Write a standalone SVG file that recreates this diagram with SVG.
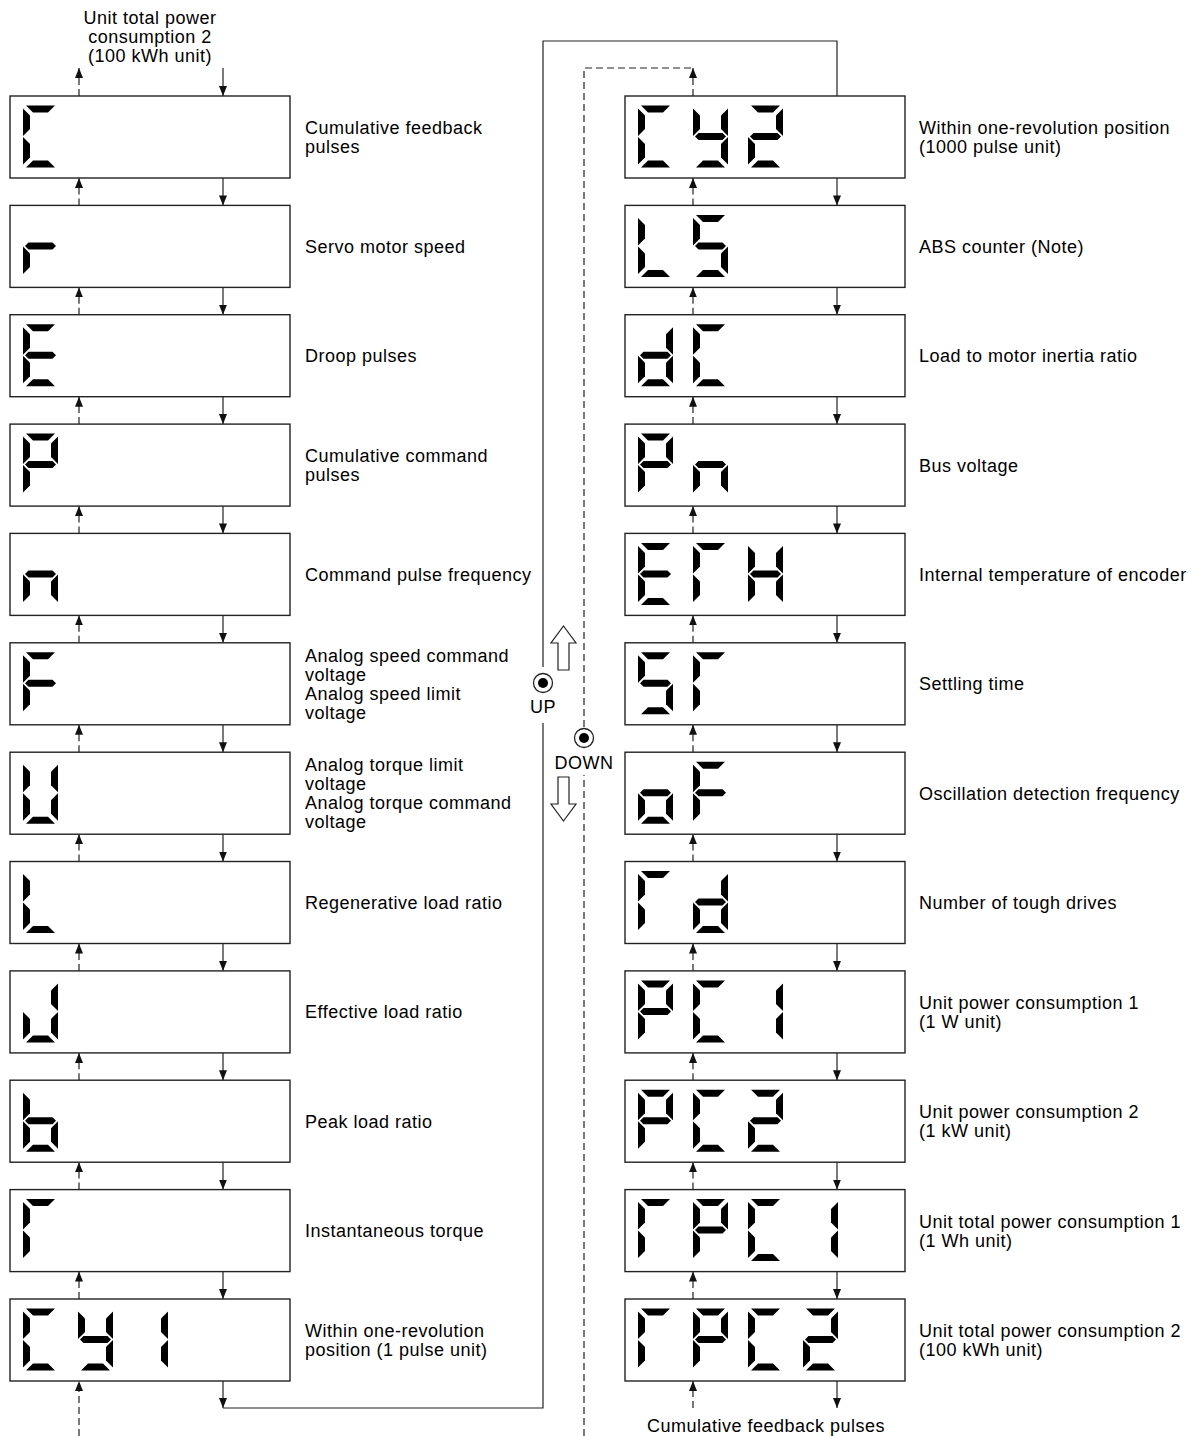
<svg xmlns="http://www.w3.org/2000/svg" xmlns:xlink="http://www.w3.org/1999/xlink" width="1202" height="1436" viewBox="0 0 1202 1436">
<style>
.box{fill:#fff;stroke:#222;stroke-width:1.4}
.seg{fill:#000}
.t{font-family:"Liberation Sans",Arial,sans-serif;font-size:18px;letter-spacing:0.5px;fill:#000}
.c{text-anchor:middle}
.ln{fill:none;stroke:#222;stroke-width:1.2}
.dl{fill:none;stroke:#222;stroke-width:1.2;stroke-dasharray:7,4}
.dn{marker-end:url(#ah)}
.hol{fill:#fff;stroke:#222;stroke-width:1.2}
</style>
<defs>
<marker id="ah" viewBox="0 0 10 8" refX="10" refY="4" markerWidth="10" markerHeight="8" markerUnits="userSpaceOnUse" orient="auto"><path d="M0,0 L10,4 L0,8 z" fill="#111"/></marker>
<polygon id="sa" class="seg" points="3,0 32,0 25,7 10,7"/>
<polygon id="sb" class="seg" points="35,3 28,10 28,23.5 35,30.5"/>
<polygon id="sc" class="seg" points="35,59 28,52 28,38.5 35,31.5"/>
<polygon id="sd" class="seg" points="3,62 32,62 25,55 10,55"/>
<polygon id="se" class="seg" points="0,59 7,52 7,38.5 0,31.5"/>
<polygon id="sf" class="seg" points="0,3 7,10 7,23.5 0,30.5"/>
<polygon id="sg" class="seg" points="2,31 5.5,27.5 29.5,27.5 33,31 29.5,34.5 5.5,34.5"/>
<g id="cC"><use href="#sa"/><use href="#sd"/><use href="#se"/><use href="#sf"/></g>
<g id="cr"><use href="#se"/><use href="#sg"/></g>
<g id="cE"><use href="#sa"/><use href="#sd"/><use href="#se"/><use href="#sf"/><use href="#sg"/></g>
<g id="cP"><use href="#sa"/><use href="#sb"/><use href="#se"/><use href="#sf"/><use href="#sg"/></g>
<g id="cn"><use href="#sc"/><use href="#se"/><use href="#sg"/></g>
<g id="cF"><use href="#sa"/><use href="#se"/><use href="#sf"/><use href="#sg"/></g>
<g id="cU"><use href="#sb"/><use href="#sc"/><use href="#sd"/><use href="#se"/><use href="#sf"/></g>
<g id="cL"><use href="#sd"/><use href="#se"/><use href="#sf"/></g>
<g id="cJ"><use href="#sb"/><use href="#sc"/><use href="#sd"/><use href="#se"/></g>
<g id="cb"><use href="#sc"/><use href="#sd"/><use href="#se"/><use href="#sf"/><use href="#sg"/></g>
<g id="cT"><use href="#sa"/><use href="#se"/><use href="#sf"/></g>
<g id="cy"><use href="#sb"/><use href="#sc"/><use href="#sd"/><use href="#sf"/><use href="#sg"/></g>
<g id="c1"><use href="#sb"/><use href="#sc"/></g>
<g id="c2"><use href="#sa"/><use href="#sb"/><use href="#sd"/><use href="#se"/><use href="#sg"/></g>
<g id="cS"><use href="#sa"/><use href="#sc"/><use href="#sd"/><use href="#sf"/><use href="#sg"/></g>
<g id="cd"><use href="#sb"/><use href="#sc"/><use href="#sd"/><use href="#se"/><use href="#sg"/></g>
<g id="cH"><use href="#sb"/><use href="#sc"/><use href="#se"/><use href="#sf"/><use href="#sg"/></g>
<g id="co"><use href="#sc"/><use href="#sd"/><use href="#se"/><use href="#sg"/></g>
</defs>
<rect width="1202" height="1436" fill="#fff"/>

<!-- connectors -->
<g id="connectors">
<!-- left column -->
<line class="dl dn" x1="79" y1="96" x2="79" y2="68"/>
<line class="ln dn" x1="223" y1="68" x2="223" y2="96"/>
<line class="dl dn" x1="79" y1="205.4" x2="79" y2="178"/>
<line class="ln dn" x1="223" y1="178" x2="223" y2="205.4"/>
<line class="dl dn" x1="79" y1="314.7" x2="79" y2="287.4"/>
<line class="ln dn" x1="223" y1="287.4" x2="223" y2="314.7"/>
<line class="dl dn" x1="79" y1="424.1" x2="79" y2="396.7"/>
<line class="ln dn" x1="223" y1="396.7" x2="223" y2="424.1"/>
<line class="dl dn" x1="79" y1="533.4" x2="79" y2="506.1"/>
<line class="ln dn" x1="223" y1="506.1" x2="223" y2="533.4"/>
<line class="dl dn" x1="79" y1="642.8" x2="79" y2="615.4"/>
<line class="ln dn" x1="223" y1="615.4" x2="223" y2="642.8"/>
<line class="dl dn" x1="79" y1="752.2" x2="79" y2="724.8"/>
<line class="ln dn" x1="223" y1="724.8" x2="223" y2="752.2"/>
<line class="dl dn" x1="79" y1="861.5" x2="79" y2="834.2"/>
<line class="ln dn" x1="223" y1="834.2" x2="223" y2="861.5"/>
<line class="dl dn" x1="79" y1="970.9" x2="79" y2="943.5"/>
<line class="ln dn" x1="223" y1="943.5" x2="223" y2="970.9"/>
<line class="dl dn" x1="79" y1="1080.2" x2="79" y2="1052.9"/>
<line class="ln dn" x1="223" y1="1052.9" x2="223" y2="1080.2"/>
<line class="dl dn" x1="79" y1="1189.6" x2="79" y2="1162.2"/>
<line class="ln dn" x1="223" y1="1162.2" x2="223" y2="1189.6"/>
<line class="dl dn" x1="79" y1="1299" x2="79" y2="1271.6"/>
<line class="ln dn" x1="223" y1="1271.6" x2="223" y2="1299"/>
<line class="dl dn" x1="79" y1="1436" x2="79" y2="1381"/>
<line class="ln dn" x1="223" y1="1381" x2="223" y2="1408"/>
<!-- loop from left bottom to right top -->
<polyline class="ln" points="223,1408 543,1408 543,723"/>
<polyline class="ln" points="543,667 543,41 837,41 837,96"/>
<!-- dashed return -->
<polyline class="dl" points="584,1436 584,775"/>
<polyline class="dl" points="584,727 584,68 693,68"/>
<!-- right column -->
<line class="dl dn" x1="693" y1="96" x2="693" y2="68"/>
<line class="dl dn" x1="693" y1="205.4" x2="693" y2="178"/>
<line class="ln dn" x1="837" y1="178" x2="837" y2="205.4"/>
<line class="dl dn" x1="693" y1="314.7" x2="693" y2="287.4"/>
<line class="ln dn" x1="837" y1="287.4" x2="837" y2="314.7"/>
<line class="dl dn" x1="693" y1="424.1" x2="693" y2="396.7"/>
<line class="ln dn" x1="837" y1="396.7" x2="837" y2="424.1"/>
<line class="dl dn" x1="693" y1="533.4" x2="693" y2="506.1"/>
<line class="ln dn" x1="837" y1="506.1" x2="837" y2="533.4"/>
<line class="dl dn" x1="693" y1="642.8" x2="693" y2="615.4"/>
<line class="ln dn" x1="837" y1="615.4" x2="837" y2="642.8"/>
<line class="dl dn" x1="693" y1="752.2" x2="693" y2="724.8"/>
<line class="ln dn" x1="837" y1="724.8" x2="837" y2="752.2"/>
<line class="dl dn" x1="693" y1="861.5" x2="693" y2="834.2"/>
<line class="ln dn" x1="837" y1="834.2" x2="837" y2="861.5"/>
<line class="dl dn" x1="693" y1="970.9" x2="693" y2="943.5"/>
<line class="ln dn" x1="837" y1="943.5" x2="837" y2="970.9"/>
<line class="dl dn" x1="693" y1="1080.2" x2="693" y2="1052.9"/>
<line class="ln dn" x1="837" y1="1052.9" x2="837" y2="1080.2"/>
<line class="dl dn" x1="693" y1="1189.6" x2="693" y2="1162.2"/>
<line class="ln dn" x1="837" y1="1162.2" x2="837" y2="1189.6"/>
<line class="dl dn" x1="693" y1="1299" x2="693" y2="1271.6"/>
<line class="ln dn" x1="837" y1="1271.6" x2="837" y2="1299"/>
<line class="dl dn" x1="693" y1="1408" x2="693" y2="1381"/>
<line class="ln dn" x1="837" y1="1381" x2="837" y2="1408"/>
</g>

<!-- UP / DOWN -->
<g id="up">
<polygon class="hol" points="563.5,626 576,643 569,643 569,670 558,670 558,643 551,643"/>
<circle cx="543" cy="683" r="9.5" fill="#fff" stroke="#222" stroke-width="1.3"/>
<circle cx="543" cy="683" r="5" fill="#000"/>
<text class="t c" x="543" y="713">UP</text>
</g>
<g id="down">
<circle cx="584" cy="738" r="9.5" fill="#fff" stroke="#222" stroke-width="1.3"/>
<circle cx="584" cy="738" r="5" fill="#000"/>
<text class="t c" x="584" y="769">DOWN</text>
<polygon class="hol" points="563.5,821 576,804 569,804 569,777 558,777 558,804 551,804"/>
</g>

<!-- top / bottom labels -->
<text class="t c" x="150" y="24">Unit total power</text>
<text class="t c" x="150" y="43">consumption 2</text>
<text class="t c" x="150" y="62">(100 kWh unit)</text>
<text class="t c" x="766" y="1432">Cumulative feedback pulses</text>

<!-- left column nodes -->
<g id="L1"><rect class="box" x="10" y="96" width="280" height="82"/><use href="#cC" x="23" y="105.5"/>
<text class="t" x="305" y="134">Cumulative feedback</text><text class="t" x="305" y="153">pulses</text></g>
<g id="L2"><rect class="box" x="10" y="205.4" width="280" height="82"/><use href="#cr" x="23" y="214.9"/>
<text class="t" x="305" y="252.9">Servo motor speed</text></g>
<g id="L3"><rect class="box" x="10" y="314.7" width="280" height="82"/><use href="#cE" x="23" y="324.2"/>
<text class="t" x="305" y="362.2">Droop pulses</text></g>
<g id="L4"><rect class="box" x="10" y="424.1" width="280" height="82"/><use href="#cP" x="23" y="433.6"/>
<text class="t" x="305" y="462.1">Cumulative command</text><text class="t" x="305" y="481.1">pulses</text></g>
<g id="L5"><rect class="box" x="10" y="533.4" width="280" height="82"/><use href="#cn" x="23" y="542.9"/>
<text class="t" x="305" y="580.9">Command pulse frequency</text></g>
<g id="L6"><rect class="box" x="10" y="642.8" width="280" height="82"/><use href="#cF" x="23" y="652.3"/>
<text class="t" x="305" y="661.8">Analog speed command</text><text class="t" x="305" y="680.8">voltage</text><text class="t" x="305" y="699.8">Analog speed limit</text><text class="t" x="305" y="718.8">voltage</text></g>
<g id="L7"><rect class="box" x="10" y="752.2" width="280" height="82"/><use href="#cU" x="23" y="761.7"/>
<text class="t" x="305" y="771.2">Analog torque limit</text><text class="t" x="305" y="790.2">voltage</text><text class="t" x="305" y="809.2">Analog torque command</text><text class="t" x="305" y="828.2">voltage</text></g>
<g id="L8"><rect class="box" x="10" y="861.5" width="280" height="82"/><use href="#cL" x="23" y="871"/>
<text class="t" x="305" y="909">Regenerative load ratio</text></g>
<g id="L9"><rect class="box" x="10" y="970.9" width="280" height="82"/><use href="#cJ" x="23" y="980.4"/>
<text class="t" x="305" y="1018.4">Effective load ratio</text></g>
<g id="L10"><rect class="box" x="10" y="1080.2" width="280" height="82"/><use href="#cb" x="23" y="1089.7"/>
<text class="t" x="305" y="1127.7">Peak load ratio</text></g>
<g id="L11"><rect class="box" x="10" y="1189.6" width="280" height="82"/><use href="#cT" x="23" y="1199.1"/>
<text class="t" x="305" y="1237.1">Instantaneous torque</text></g>
<g id="L12"><rect class="box" x="10" y="1299" width="280" height="82"/><use href="#cC" x="23" y="1308.5"/><use href="#cy" x="78" y="1308.5"/><use href="#c1" x="133" y="1308.5"/>
<text class="t" x="305" y="1337">Within one-revolution</text><text class="t" x="305" y="1356">position (1 pulse unit)</text></g>

<!-- right column nodes -->
<g id="R1"><rect class="box" x="625" y="96" width="280" height="82"/><use href="#cC" x="638" y="105.5"/><use href="#cy" x="693" y="105.5"/><use href="#c2" x="748" y="105.5"/>
<text class="t" x="919" y="134">Within one-revolution position</text><text class="t" x="919" y="153">(1000 pulse unit)</text></g>
<g id="R2"><rect class="box" x="625" y="205.4" width="280" height="82"/><use href="#cL" x="638" y="214.9"/><use href="#cS" x="693" y="214.9"/>
<text class="t" x="919" y="252.9">ABS counter (Note)</text></g>
<g id="R3"><rect class="box" x="625" y="314.7" width="280" height="82"/><use href="#cd" x="638" y="324.2"/><use href="#cC" x="693" y="324.2"/>
<text class="t" x="919" y="362.2">Load to motor inertia ratio</text></g>
<g id="R4"><rect class="box" x="625" y="424.1" width="280" height="82"/><use href="#cP" x="638" y="433.6"/><use href="#cn" x="693" y="433.6"/>
<text class="t" x="919" y="471.6">Bus voltage</text></g>
<g id="R5"><rect class="box" x="625" y="533.4" width="280" height="82"/><use href="#cE" x="638" y="542.9"/><use href="#cT" x="693" y="542.9"/><use href="#cH" x="748" y="542.9"/>
<text class="t" x="919" y="580.9">Internal temperature of encoder</text></g>
<g id="R6"><rect class="box" x="625" y="642.8" width="280" height="82"/><use href="#cS" x="638" y="652.3"/><use href="#cT" x="693" y="652.3"/>
<text class="t" x="919" y="690.3">Settling time</text></g>
<g id="R7"><rect class="box" x="625" y="752.2" width="280" height="82"/><use href="#co" x="638" y="761.7"/><use href="#cF" x="693" y="761.7"/>
<text class="t" x="919" y="799.7">Oscillation detection frequency</text></g>
<g id="R8"><rect class="box" x="625" y="861.5" width="280" height="82"/><use href="#cT" x="638" y="871"/><use href="#cd" x="693" y="871"/>
<text class="t" x="919" y="909">Number of tough drives</text></g>
<g id="R9"><rect class="box" x="625" y="970.9" width="280" height="82"/><use href="#cP" x="638" y="980.4"/><use href="#cC" x="693" y="980.4"/><use href="#c1" x="748" y="980.4"/>
<text class="t" x="919" y="1008.9">Unit power consumption 1</text><text class="t" x="919" y="1027.9">(1 W unit)</text></g>
<g id="R10"><rect class="box" x="625" y="1080.2" width="280" height="82"/><use href="#cP" x="638" y="1089.7"/><use href="#cC" x="693" y="1089.7"/><use href="#c2" x="748" y="1089.7"/>
<text class="t" x="919" y="1118.2">Unit power consumption 2</text><text class="t" x="919" y="1137.2">(1 kW unit)</text></g>
<g id="R11"><rect class="box" x="625" y="1189.6" width="280" height="82"/><use href="#cT" x="638" y="1199.1"/><use href="#cP" x="693" y="1199.1"/><use href="#cC" x="748" y="1199.1"/><use href="#c1" x="803" y="1199.1"/>
<text class="t" x="919" y="1227.6">Unit total power consumption 1</text><text class="t" x="919" y="1246.6">(1 Wh unit)</text></g>
<g id="R12"><rect class="box" x="625" y="1299" width="280" height="82"/><use href="#cT" x="638" y="1308.5"/><use href="#cP" x="693" y="1308.5"/><use href="#cC" x="748" y="1308.5"/><use href="#c2" x="803" y="1308.5"/>
<text class="t" x="919" y="1337">Unit total power consumption 2</text><text class="t" x="919" y="1356">(100 kWh unit)</text></g>
</svg>
